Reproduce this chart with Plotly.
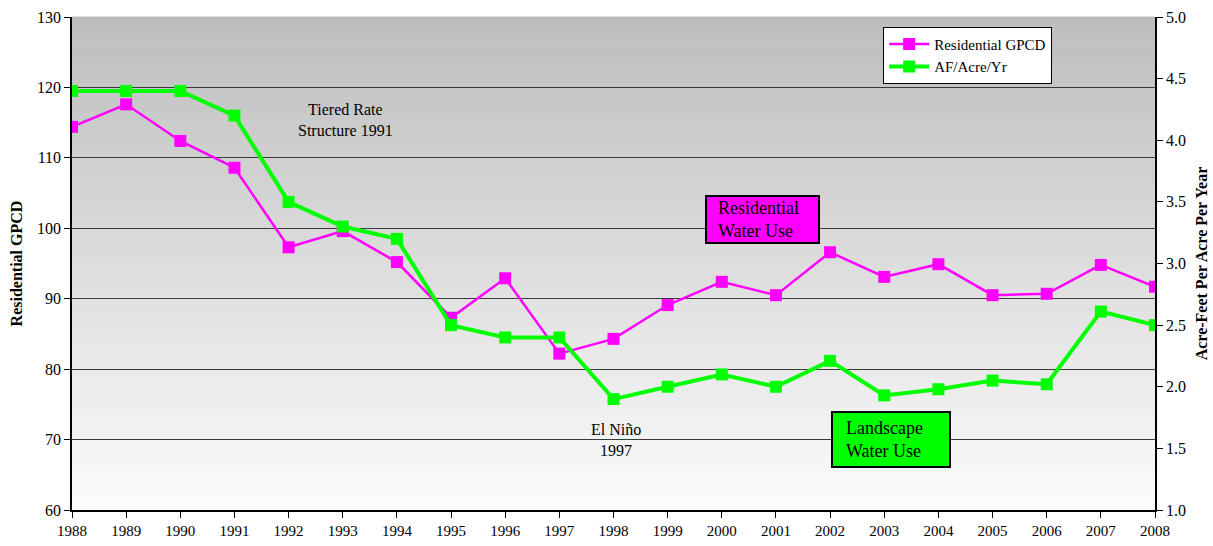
import plotly.graph_objects as go

years = list(range(1988, 2009))
gpcd = [114.4, 117.6, 112.4, 108.6, 97.3, 99.6, 95.2, 87.3, 92.9, 82.2, 84.3,
        89.1, 92.4, 90.5, 96.6, 93.1, 94.9, 90.5, 90.7, 94.8, 91.7]
af = [4.4, 4.4, 4.4, 4.2, 3.5, 3.3, 3.2, 2.5, 2.4, 2.4, 1.9,
      2.0, 2.1, 2.0, 2.21, 1.93, 1.98, 2.05, 2.02, 2.61, 2.5]
left_ticks = [60, 70, 80, 90, 100, 110, 120, 130]
right_ticks = [1.0, 1.5, 2.0, 2.5, 3.0, 3.5, 4.0, 4.5, 5.0]

FONT = "Liberation Serif, Times New Roman, serif"

fig = go.Figure()
fig.add_trace(go.Scatter(
    x=years, y=gpcd, name="Residential GPCD", mode="lines+markers",
    line=dict(color="#ff00ff", width=2.5),
    marker=dict(symbol="square", size=12, color="#ff00ff"),
    yaxis="y"))
fig.add_trace(go.Scatter(
    x=years, y=af, name="AF/Acre/Yr", mode="lines+markers",
    line=dict(color="#00ff00", width=4),
    marker=dict(symbol="square", size=12, color="#00ff00"),
    yaxis="y2"))

# gradient background
n = 80
top = (0xbd, 0xbd, 0xbd)
bot = (0xfc, 0xfc, 0xfc)
shapes = []
for i in range(n):
    t = (i + 0.5) / n
    c = tuple(int(round(bot[k] + (top[k] - bot[k]) * t)) for k in range(3))
    shapes.append(dict(type="rect", xref="paper", yref="paper",
                       x0=0, x1=1, y0=i / n, y1=(i + 1) / n + 0.001,
                       fillcolor="rgb(%d,%d,%d)" % c, line=dict(width=0),
                       layer="below"))

NB = "&nbsp;&nbsp;"

fig.update_layout(
    width=1213, height=546,
    margin=dict(l=72, r=58, t=17, b=36, autoexpand=False),
    paper_bgcolor="white", plot_bgcolor="white",
    font=dict(family=FONT, size=15, color="black"),
    shapes=shapes,
    showlegend=True,
    legend=dict(x=0.749, y=0.98, xanchor="left", yanchor="top",
                bgcolor="white", bordercolor="black", borderwidth=1,
                font=dict(family=FONT, size=15), tracegroupgap=0,
                itemwidth=40),
    xaxis=dict(range=[1988, 2008], tickmode="array", tickvals=years,
               ticktext=[str(y) for y in years], showgrid=False,
               showline=True, linecolor="black", linewidth=1.5,
               ticks="outside", ticklen=6, tickcolor="black",
               tickfont=dict(family=FONT, size=15), zeroline=False,
               automargin=False),
    yaxis=dict(range=[60, 130], tickvals=left_ticks, showgrid=True,
               gridcolor="#3a3a3a", gridwidth=1,
               showline=True, linecolor="black", linewidth=1.5,
               ticks="outside", ticklen=6, tickcolor="black",
               tickfont=dict(family=FONT, size=16), zeroline=False,
               automargin=False,
               title=dict(text="<b>Residential GPCD</b>",
                          font=dict(family=FONT, size=16), standoff=10)),
    yaxis2=dict(range=[1.0, 5.0], tickvals=right_ticks,
                ticktext=["%.1f" % v for v in right_ticks],
                overlaying="y", side="right", showgrid=False,
                showline=True, linecolor="black", linewidth=1.5,
                ticks="outside", ticklen=6, tickcolor="black",
                tickfont=dict(family=FONT, size=16), zeroline=False,
                automargin=False,
                title=dict(text="<b>Acre-Feet Per Acre Per Year</b>",
                           font=dict(family=FONT, size=16), standoff=11)),
    annotations=[
        dict(x=1993.05, y=115.4, xref="x", yref="y", showarrow=False,
             text="Tiered Rate<br>Structure 1991",
             font=dict(family=FONT, size=16)),
        dict(x=1998.05, y=70.0, xref="x", yref="y", showarrow=False,
             text="El Niño<br>1997", font=dict(family=FONT, size=16)),
        dict(x=2000.75, y=101.25, xref="x", yref="y", showarrow=False,
             text=NB + "Residential<br>" + NB + "Water Use", align="left",
             width=107, height=41,
             font=dict(family=FONT, size=18), bgcolor="#ff00ff",
             bordercolor="black", borderwidth=2, borderpad=2),
        dict(x=2003.12, y=70.0, xref="x", yref="y", showarrow=False,
             text=NB + "Landscape<br>" + NB + "Water Use", align="left",
             width=108, height=45,
             font=dict(family=FONT, size=18), bgcolor="#00ff00",
             bordercolor="black", borderwidth=2, borderpad=4),
    ],
)

fig.write_html("out.html")
